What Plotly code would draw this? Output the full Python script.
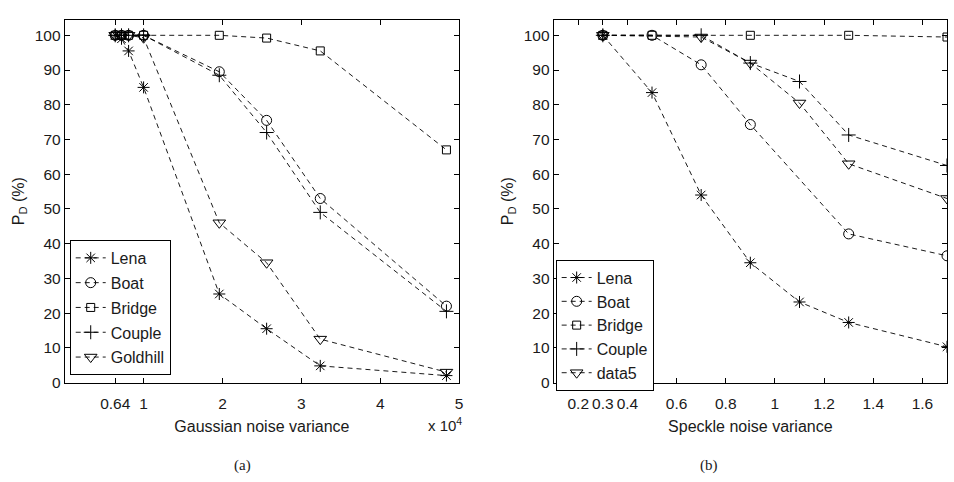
import plotly.graph_objects as go

# Gaussian noise experiment (variance in units of 1e4)
gauss_var = [0.64, 0.72, 0.81, 1.0, 1.96, 2.56, 3.24, 4.84]
gauss_lena = [100, 99, 95.5, 85, 25.5, 15.5, 4.8, 2]
gauss_boat = [100, 100, 100, 100, 89.5, 75.5, 53, 22]
gauss_bridge = [100, 100, 100, 100, 100, 99.2, 95.5, 67]
gauss_couple = [100, 100, 100, 100, 88.5, 72, 49, 20.5]
gauss_goldhill = [100, 100, 100, 99.3, 46, 34.5, 12.5, 3]

# Speckle noise experiment
speckle_var = [0.3, 0.5, 0.7, 0.9, 1.1, 1.3, 1.7]
speckle_lena = [100, 83.5, 54, 34.5, 23.2, 17.3, 10.3]
speckle_boat_x = [0.3, 0.5, 0.7, 0.9, 1.3, 1.7]
speckle_boat = [100, 100, 91.5, 74.3, 42.8, 36.5]
speckle_bridge_x = [0.3, 0.5, 0.9, 1.3, 1.7]
speckle_bridge = [100, 100, 100, 100, 99.5]
speckle_couple_x = [0.3, 0.7, 0.9, 1.1, 1.3, 1.7]
speckle_couple = [100, 100, 92, 86.7, 71.3, 62.5]
speckle_data5_x = [0.3, 0.7, 0.9, 1.1, 1.3, 1.7]
speckle_data5 = [100, 99.5, 92, 80.5, 63, 53]

y_ticks = list(range(0, 101, 10))
gauss_ticks = [0.64, 1, 2, 3, 4, 5]
gauss_ticktext = ["0.64", "1", "2", "3", "4", "5"]
speckle_ticks = [0.2, 0.3, 0.4, 0.6, 0.8, 1, 1.2, 1.4, 1.6]
speckle_ticktext = ["0.2", "0.3", "0.4", "0.6", "0.8", "1", "1.2", "1.4", "1.6"]

FONT = "Liberation Sans, Arial, Helvetica, sans-serif"
TXT = "#1a1a1a"
DASH = "5px,4px"

symbols = {
    "Lena": "asterisk-open",
    "Boat": "circle-open",
    "Bridge": "square-open",
    "Couple": "cross-thin-open",
    "Goldhill": "triangle-down-open",
    "data5": "triangle-down-open",
}
sizes = {"Lena": 10, "Boat": 10, "Bridge": 8, "Couple": 10,
         "Goldhill": 11, "data5": 11}

fig = go.Figure()


def add_series(name, x, y, xaxis, yaxis, legend):
    fig.add_trace(go.Scatter(
        x=x, y=y, name=name, mode="lines+markers",
        xaxis=xaxis, yaxis=yaxis, legend=legend,
        legendgroup=legend + name,
        line=dict(color="black", width=0.9, dash=DASH),
        marker=dict(symbol=symbols[name], size=sizes[name], color="black",
                    line=dict(color="black", width=1)),
        cliponaxis=True,
    ))


for name, ys in [("Lena", gauss_lena), ("Boat", gauss_boat),
                 ("Bridge", gauss_bridge), ("Couple", gauss_couple),
                 ("Goldhill", gauss_goldhill)]:
    add_series(name, gauss_var, ys, "x", "y", "legend")

for name, xs, ys in [("Lena", speckle_var, speckle_lena),
                     ("Boat", speckle_boat_x, speckle_boat),
                     ("Bridge", speckle_bridge_x, speckle_bridge),
                     ("Couple", speckle_couple_x, speckle_couple),
                     ("data5", speckle_data5_x, speckle_data5)]:
    add_series(name, xs, ys, "x2", "y2", "legend2")

W, H = 954, 482


def px_x(p):
    return p / W


def px_y(p):
    return 1 - p / H


axis_common = dict(
    showline=True, linecolor="black", linewidth=1, mirror="ticks",
    ticks="inside", ticklen=5, tickcolor="black", tickwidth=1,
    showgrid=False, zeroline=False, tickangle=0,
    tickfont=dict(family=FONT, size=15.5, color=TXT),
)
title_font = dict(family=FONT, size=16, color=TXT)

y_dom = [px_y(389), px_y(20)]

fig.update_layout(
    width=W, height=H,
    margin=dict(l=0, r=0, t=0, b=0),
    paper_bgcolor="white", plot_bgcolor="white",
    font=dict(family=FONT, size=15, color=TXT),
    xaxis=dict(domain=[px_x(65), px_x(461)], range=[0, 5],
               tickvals=gauss_ticks, ticktext=gauss_ticktext,
               ticklabelstandoff=7,
               title=dict(text="Gaussian noise variance", standoff=9,
                          font=title_font),
               anchor="y", **axis_common),
    yaxis=dict(domain=y_dom, range=[0, 104.5], tickvals=y_ticks,
               title=dict(text="P<sub>D</sub> (%)", standoff=6,
                          font=title_font),
               anchor="x", **axis_common),
    xaxis2=dict(domain=[px_x(556), px_x(951)], range=[0.1, 1.7],
                tickvals=speckle_ticks, ticktext=speckle_ticktext,
                ticklabelstandoff=7,
                title=dict(text="Speckle noise variance", standoff=9,
                           font=title_font),
                anchor="y2", **axis_common),
    yaxis2=dict(domain=y_dom, range=[0, 104.5], tickvals=y_ticks,
                title=dict(text="P<sub>D</sub> (%)", standoff=6,
                           font=title_font),
                anchor="x2", **axis_common),
    legend=dict(x=px_x(70), y=px_y(244), xanchor="left", yanchor="top",
                bgcolor="white", bordercolor="black", borderwidth=1,
                font=dict(family=FONT, size=16, color=TXT),
                itemwidth=30, tracegroupgap=1, traceorder="grouped"),
    legend2=dict(x=px_x(558), y=px_y(264), xanchor="left", yanchor="top",
                 bgcolor="white", bordercolor="black", borderwidth=1,
                 font=dict(family=FONT, size=16, color=TXT),
                 itemwidth=30, tracegroupgap=0, traceorder="grouped"),
    showlegend=True,
    annotations=[
        dict(text="x 10<sup>4</sup>", x=px_x(447), y=px_y(432),
             xref="paper", yref="paper", showarrow=False,
             xanchor="center", yanchor="middle",
             font=dict(family=FONT, size=15, color=TXT)),
        dict(text="(a)", x=px_x(233), y=px_y(473), xref="paper",
             yref="paper", showarrow=False, yanchor="middle",
             font=dict(family="Liberation Serif, serif", size=15,
                       color=TXT)),
        dict(text="(b)", x=px_x(723), y=px_y(473), xref="paper",
             yref="paper", showarrow=False, yanchor="middle",
             font=dict(family="Liberation Serif, serif", size=15,
                       color=TXT)),
    ],
)

fig.write_html("out.html")
